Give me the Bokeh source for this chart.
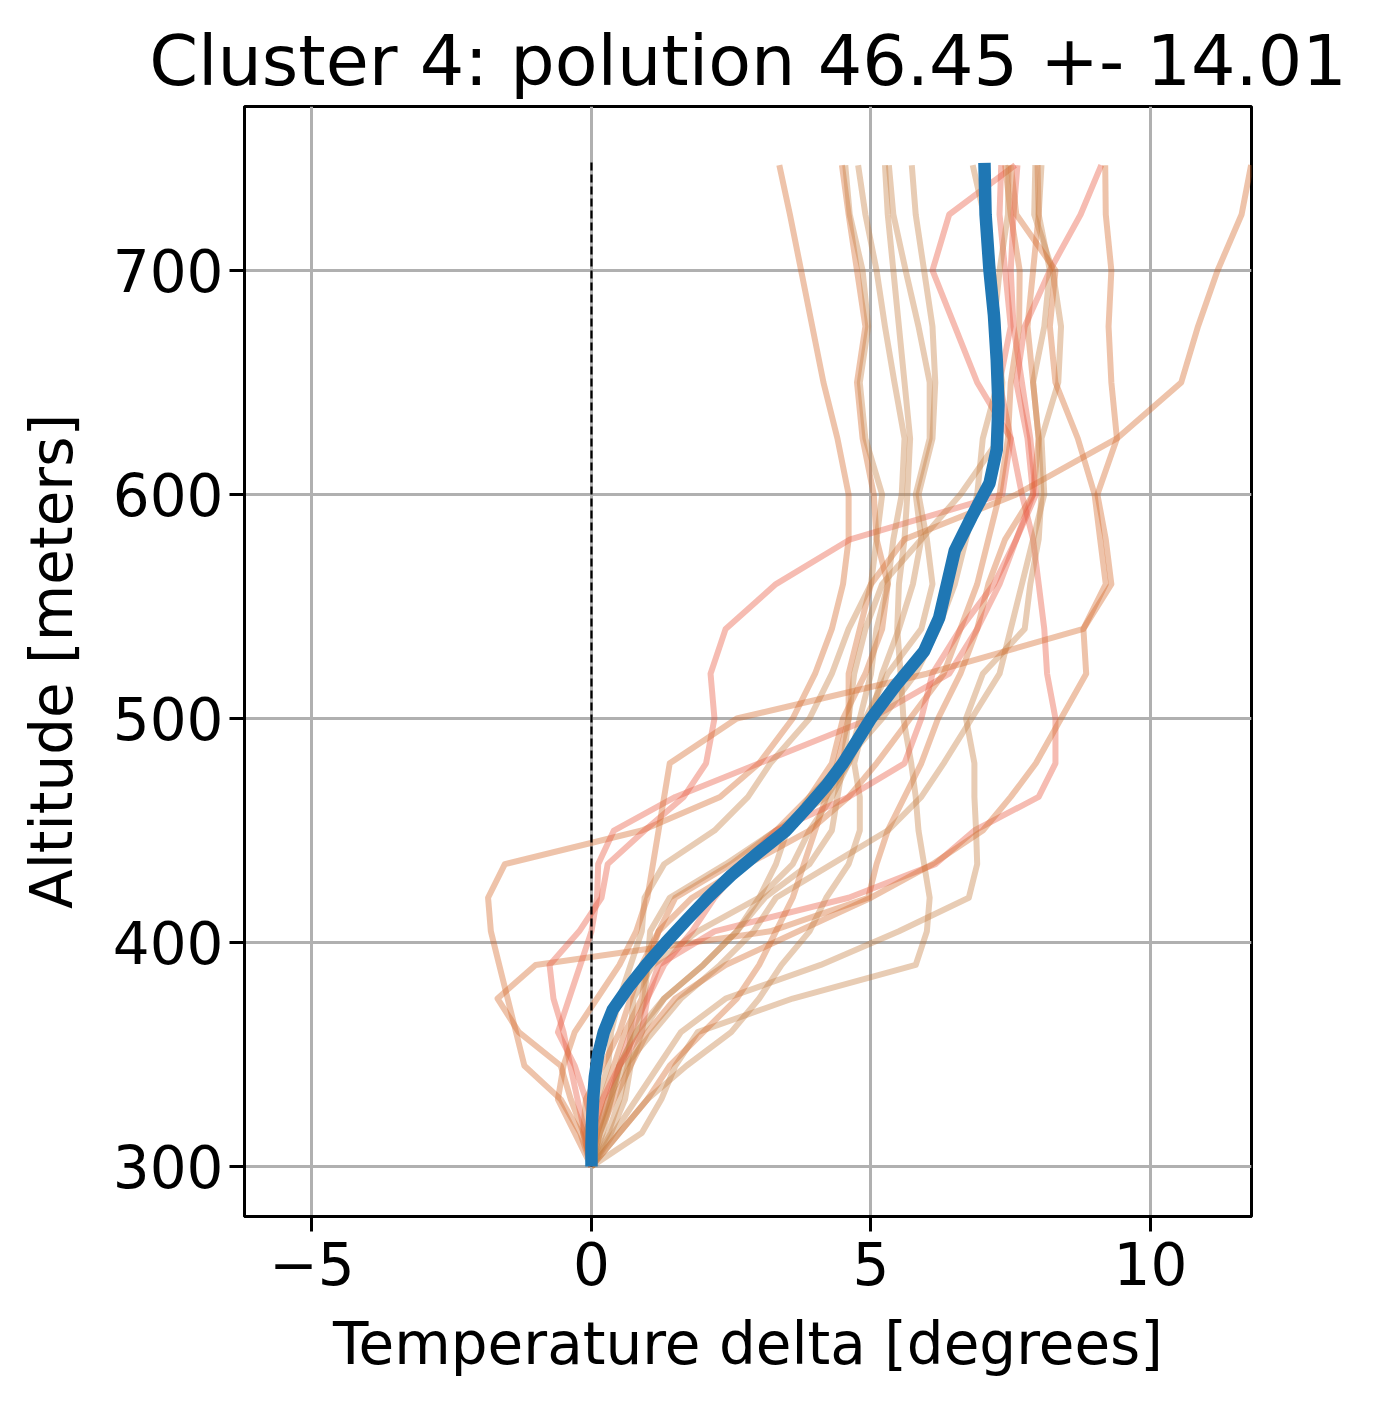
from bokeh.plotting import figure
from bokeh.models import FixedTicker, Range1d
from bokeh.embed import file_html
from bokeh.resources import INLINE

TITLE = "Cluster 4: polution 46.45 +- 14.01"
X_LABEL = "Temperature delta [degrees]"
Y_LABEL = "Altitude [meters]"
X_TICKS = [-5, 0, 5, 10]
Y_TICKS = [300, 400, 500, 600, 700]

# altitude levels shared by the individual profiles
ALT = [300, 315, 330, 345, 360, 375, 390, 405, 420, 435, 450, 465, 480,
       500, 520, 540, 560, 580, 600, 625, 650, 675, 700, 725, 747]

prof_01 = [0, -0.2, -0.55, -1.2, -1.35, -1.5, -1.65, -1.8, -1.85, -1.55, 0.9, 2.3, 3.0, 3.6, 4.0, 4.3, 4.5, 4.6, 4.6, 4.4, 4.15, 3.95, 3.75, 3.55, 3.36]
prof_02 = [0, -0.14, -0.37, -0.55, -1.3, -1.68, -1.0, 3.2, 4.95, 5.1, 5.3, 5.6, 5.9, 6.2, 6.6, 6.9, 7.1, 7.4, 7.9, 8.0, 7.9, 7.8, 7.9, 8.0, 7.98]
prof_03 = [0, -0.12, -0.25, -0.38, -0.5, -0.68, -0.75, -0.22, 0.18, 0.29, 0.95, 1.65, 2.05, 2.2, 2.13, 2.4, 3.3, 4.63, 7.35, 7.5, 7.3, 7.5, 7.4, 7.3, 7.33]
prof_04 = [0, 0.1, 0.3, 0.5, 0.7, 1.0, 1.2, 2.2, 4.6, 6.15, 6.85, 8.0, 8.3, 8.3, 8.15, 8.1, 8.0, 7.9, 7.7, 7.5, 6.9, 6.5, 6.1, 6.4, 7.58]
prof_05 = [0, 0.05, -0.1, -0.3, -0.6, -0.4, -0.2, 0.0, 0.1, 0.12, 0.4, 1.5, 3.0, 5.0, 6.4, 6.9, 7.3, 7.6, 7.9, 7.8, 7.6, 7.75, 8.2, 8.75, 9.12]
prof_06 = [0, 0.9, 1.25, 1.5, 1.9, 3.6, 5.8, 6.0, 6.05, 5.95, 5.85, 5.8, 5.72, 5.58, 5.53, 5.47, 5.5, 5.6, 5.65, 5.7, 5.6, 5.5, 5.4, 5.3, 5.25]
prof_07 = [0, 0.4, 0.8, 1.2, 1.6, 2.4, 4.1, 5.5, 6.75, 6.9, 6.88, 6.85, 6.85, 6.7, 7.0, 7.75, 7.85, 8.0, 8.05, 8.0, 7.9, 8.1, 8.2, 8.0, 8.05]
prof_08 = [0, 0.15, 0.4, 0.7, 1.0, 1.5, 2.4, 3.7, 5.0, 6.1, 7.0, 7.5, 7.95, 8.4, 8.85, 8.8, 9.3, 9.2, 9.05, 9.4, 9.3, 9.25, 9.3, 9.2, 9.19]
prof_09 = [0, 0.5, 1.0, 1.4, 2.0, 2.6, 3.0, 3.3, 3.6, 3.8, 4.0, 4.2, 4.4, 4.6, 4.6, 4.8, 5.0, 5.6, 7.6, 9.4, 10.55, 10.85, 11.2, 11.63, 11.8]
prof_10 = [0, 0.05, 0.2, 0.4, 0.6, 0.9, 1.0, 1.2, 1.5, 2.5, 3.3, 3.9, 4.3, 4.5, 4.9, 5.2, 5.3, 5.1, 5.05, 4.85, 4.75, 4.9, 4.75, 4.6, 4.48]
prof_11 = [0, -0.1, 0.1, 0.3, 0.35, 0.5, 0.7, 0.9, 0.95, 1.3, 2.2, 2.8, 3.2, 3.9, 4.3, 4.6, 5.0, 5.1, 5.2, 4.9, 4.8, 4.95, 4.85, 4.62, 4.54]
prof_12 = [0, 0.2, 0.35, 0.5, 0.8, 0.95, 1.0, 1.05, 1.4, 2.4, 3.3, 4.2, 4.6, 4.8, 5.0, 5.1, 5.3, 5.4, 5.55, 5.6, 5.42, 5.25, 5.1, 4.9, 4.77]
prof_13 = [0, 0.3, 0.5, 0.65, 0.7, 0.75, 1.1, 1.9, 3.0, 3.6, 3.9, 4.3, 4.6, 5.0, 5.2, 5.5, 5.75, 5.9, 5.8, 6.05, 6.05, 5.85, 5.62, 5.4, 5.32]
prof_14 = [0, 0.5, 1.0, 1.7, 2.5, 3.0, 3.4, 3.9, 4.2, 4.6, 4.8, 4.8, 4.7, 4.9, 5.3, 5.9, 6.1, 6.0, 5.85, 6.1, 6.15, 6.1, 5.95, 5.8, 5.73]
prof_15 = [0, 0.15, 0.35, 0.5, 0.8, 1.3, 2.0, 2.6, 3.0, 3.3, 3.5, 3.9, 4.5, 5.2, 5.8, 6.2, 6.5, 6.7, 6.9, 7.0, 7.27, 7.27, 7.18, 7.02, 6.82]
prof_16 = [0, -0.15, -0.1, 0.2, 0.5, 0.7, 0.9, 1.2, 1.8, 2.8, 3.9, 4.6, 5.1, 5.7, 6.3, 6.6, 6.9, 7.1, 7.3, 7.45, 7.5, 7.65, 7.66, 7.5, 7.40]
prof_17 = [0, 0.1, 0.3, 0.6, 1.1, 1.6, 2.3, 2.9, 3.3, 4.3, 5.3, 5.9, 6.3, 6.8, 7.3, 7.5, 7.7, 7.9, 8.1, 8.05, 8.35, 8.4, 8.25, 7.92, 7.94]
prof_18 = [0, 0.0, 0.2, 0.5, 0.9, 1.0, 1.3, 1.8, 2.2, 2.7, 3.3, 4.6, 5.6, 5.9, 6.1, 6.6, 7.2, 7.6, 7.95, 7.85, 7.7, 7.55, 7.5, 7.55, 7.62]
prof_19 = [0, 0.35, 0.6, 0.7, 0.9, 1.3, 2.0, 2.6, 3.1, 3.9, 4.3, 4.4, 4.5, 4.6, 4.7, 4.9, 5.2, 5.9, 6.6, 7.3, 7.35, 7.2, 7.3, 7.45, 7.46]
prof_20 = [0, -0.3, -0.6, -0.5, -0.3, 0.1, 0.5, 0.8, 1.0, 1.1, 1.2, 1.3, 1.4, 2.6, 6.0, 8.8, 9.2, 9.1, 9.0, 8.7, 8.3, 8.2, 8.3, 7.6, 7.5]

PROFILES = [prof_01, prof_02, prof_03, prof_04, prof_05, prof_06, prof_07,
            prof_08, prof_09, prof_10, prof_11, prof_12, prof_13, prof_14,
            prof_15, prof_16, prof_17, prof_18, prof_19, prof_20]

PINK, PEACH, TAN = "#E9583F", "#D4692A", "#C58044"
PROFILE_COLORS = [PEACH, PEACH, PINK, PINK, PINK, TAN, TAN, PEACH, PEACH, PEACH,
                  TAN, TAN, TAN, TAN, TAN, PEACH, TAN, PINK, TAN, PEACH]

# cluster mean profile
MEAN_ALT = [300, 310, 320, 330, 340, 350, 360, 370, 380, 390, 400, 410, 420, 430,
            440, 450, 460, 470, 480, 490, 500, 515, 530, 545, 560, 575, 590, 605,
            620, 640, 660, 680, 700, 725, 748]
MEAN_X = [0, 0.0, 0.01, 0.03, 0.06, 0.12, 0.22, 0.38, 0.66, 0.98, 1.33, 1.7, 2.08,
          2.5, 2.98, 3.48, 3.85, 4.2, 4.5, 4.75, 5.0, 5.45, 5.95, 6.22, 6.36, 6.5,
          6.8, 7.12, 7.25, 7.28, 7.25, 7.2, 7.12, 7.05, 7.03]

ZERO_X = [0, 0]
ZERO_ALT = [300, 750]

FONT = "DejaVu Sans"

p = figure(width=1369, height=1398,
           x_range=Range1d(-6.207, 11.807), y_range=Range1d(277.7, 773.2),
           output_backend="svg", toolbar_location=None, title=TITLE,
           min_border_left=244, min_border_right=118,
           min_border_top=106, min_border_bottom=182)

p.background_fill_color = "white"
p.border_fill_color = "white"
p.outline_line_color = "black"
p.outline_line_width = 3
p.outline_line_alpha = 1

p.title.text_font = FONT
p.title.text_font_size = "70px"
p.title.text_font_style = "normal"
p.title.text_color = "black"
p.title.align = "center"
p.title.standoff = 10

p.xaxis.ticker = FixedTicker(ticks=X_TICKS)
p.yaxis.ticker = FixedTicker(ticks=Y_TICKS)
p.xaxis.major_label_overrides = {-5: "\u22125"}
p.xaxis.axis_label = X_LABEL
p.yaxis.axis_label = Y_LABEL

for ax in (p.xaxis[0], p.yaxis[0]):
    ax.axis_line_color = "black"
    ax.axis_line_width = 3
    ax.major_tick_line_color = "black"
    ax.major_tick_line_width = 3
    ax.major_tick_out = 15
    ax.major_tick_in = 0
    ax.minor_tick_line_color = None
    ax.major_label_text_font = FONT
    ax.major_label_text_font_size = "58px"
    ax.major_label_text_color = "black"
    ax.axis_label_text_font = FONT
    ax.axis_label_text_font_size = "58px"
    ax.axis_label_text_font_style = "normal"
    ax.axis_label_text_color = "black"

p.xaxis.major_label_standoff = 10
p.xaxis.axis_label_standoff = 22
p.yaxis.major_label_standoff = 6
p.yaxis.axis_label_standoff = 24

p.grid.grid_line_color = "#b0b0b0"
p.grid.grid_line_width = 3

for xs, col in zip(PROFILES, PROFILE_COLORS):
    p.line(xs, ALT, line_color=col, line_alpha=0.4, line_width=6, line_join="round")

p.line(ZERO_X, ZERO_ALT, line_color="black", line_width=2.2, line_dash="8 4")
p.line(MEAN_X, MEAN_ALT, line_color="#1f77b4", line_width=12.5, line_join="round")

open("out.html", "w").write(file_html(p, INLINE))
